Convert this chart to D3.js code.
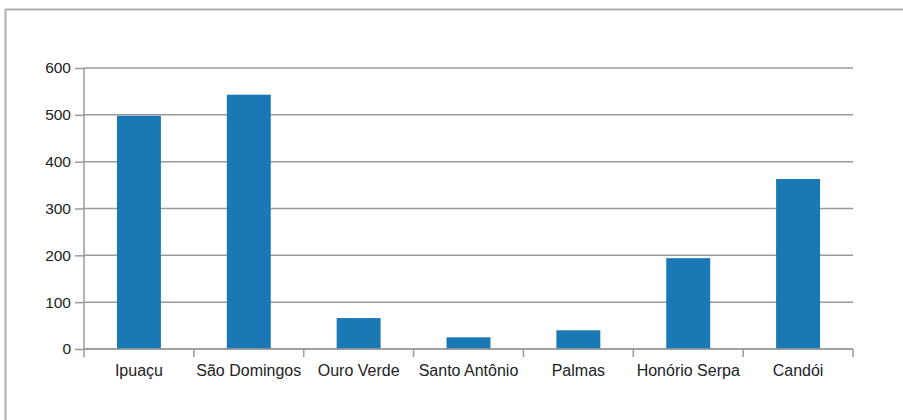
<!DOCTYPE html>
<html>
<head>
<meta charset="utf-8">
<script src="https://cdn.jsdelivr.net/npm/d3@7"></script>
<style>
  body { margin: 0; background: #fff; }
  text { font-family: "Liberation Sans", Arial, sans-serif; fill: #222; }
</style>
</head>
<body>
<div id="container"></div>
<script>
const categories = ["Ipuaçu", "São Domingos", "Ouro Verde", "Santo Antônio", "Palmas", "Honório Serpa", "Candói"];
const values = [498, 543, 66, 25, 40, 194, 363];
const yTicks = [0, 100, 200, 300, 400, 500, 600];

const w = 903, h = 420;
const margin = {top: 68, left: 84, bottom: 71, right: 50};
const graphWidth = w - margin.left - margin.right;
const graphHeight = h - margin.top - margin.bottom;

const svg = d3.select("#container").append("svg").attr("width", w).attr("height", h);

// outer frame
svg.append("path")
  .attr("d", `M5.5,${h} V9.5 H${w}`)
  .attr("fill", "none")
  .attr("stroke", "#b0b0b0")
  .attr("stroke-width", 2);

const graph = svg.append("g").attr("transform", `translate(${margin.left}, ${margin.top})`);

const xScale = d3.scaleBand().domain(categories).range([0, graphWidth]).padding(0);
const yScale = d3.scaleLinear().domain([0, 600]).range([graphHeight, 0]);

// gridlines
graph.append("g").selectAll("line")
  .data(yTicks)
  .enter().append("line")
    .attr("x1", 0).attr("x2", graphWidth)
    .attr("y1", d => yScale(d)).attr("y2", d => yScale(d))
    .attr("stroke", "#9a9a9a")
    .attr("stroke-width", 1.5);

// bars
const barW = xScale.bandwidth() * 0.4;
graph.selectAll("rect.bar")
  .data(values)
  .enter().append("rect")
    .attr("class", "bar")
    .attr("x", (d, i) => xScale(categories[i]) + (xScale.bandwidth() - barW) / 2)
    .attr("y", d => yScale(d))
    .attr("width", barW)
    .attr("height", d => graphHeight - yScale(d))
    .attr("fill", "#1a78b4");

// y axis
const yAxis = d3.axisLeft(yScale).tickValues(yTicks).tickSize(9).tickPadding(4);
const yAxisGroup = graph.append("g").call(yAxis);
yAxisGroup.select(".domain").attr("stroke", "#9a9a9a").attr("stroke-width", 1.5).attr("d", `M0,${graphHeight}V0`);
yAxisGroup.selectAll(".tick line").attr("stroke", "#9a9a9a").attr("stroke-width", 1.5);
yAxisGroup.selectAll(".tick text").style("font-size", "15.5px").attr("fill", "#222");

// x axis: ticks at category boundaries
const xAxisGroup = graph.append("g").attr("transform", `translate(0, ${graphHeight})`);
xAxisGroup.append("line")
  .attr("x1", 0).attr("x2", graphWidth)
  .attr("stroke", "#9a9a9a").attr("stroke-width", 1.5);
const bounds = categories.map(c => xScale(c)).concat([graphWidth]);
xAxisGroup.selectAll("line.tk")
  .data(bounds)
  .enter().append("line")
    .attr("class", "tk")
    .attr("x1", d => d).attr("x2", d => d)
    .attr("y1", 0).attr("y2", 8)
    .attr("stroke", "#9a9a9a").attr("stroke-width", 1.5);
xAxisGroup.selectAll("text")
  .data(categories)
  .enter().append("text")
    .attr("x", d => xScale(d) + xScale.bandwidth() / 2)
    .attr("y", 27)
    .attr("text-anchor", "middle")
    .style("font-size", "16px")
    .text(d => d);
</script>
</body>
</html>
